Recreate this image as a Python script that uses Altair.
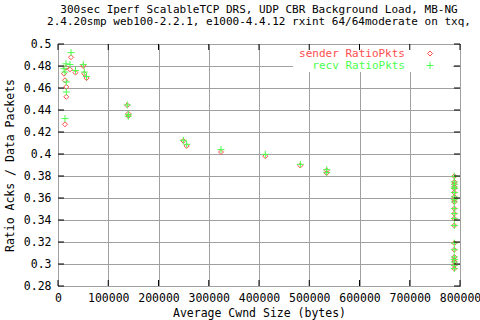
import altair as alt
import pandas as pd

title_lines = [
    "300sec Iperf ScalableTCP DRS, UDP CBR Background Load, MB-NG",
    "2.4.20smp web100-2.2.1, e1000-4.4.12 rxint 64/64moderate on txq,",
]
x_title = "Average Cwnd Size (bytes)"
y_title = "Ratio Acks / Data Packets"
series_names = ["sender RatioPkts", "recv RatioPkts"]
series_colors = ["#ff4d4d", "#4dff4d"]

cwnd = [25900, 15900, 23900, 11900, 13900, 16500, 16500, 13900, 34800, 50300, 52300, 56700,
        137900, 139900, 139900, 249400, 256100, 324400, 412500, 482200, 534700, 534700,
        788700, 788700, 788700, 788700, 788700, 788700, 788700, 788700, 788700, 788700,
        788700, 788700, 788700, 788700, 788700, 788700, 788700, 788700, 788700, 788700]
sender_ratio = [0.4880, 0.4785, 0.4770, 0.4730, 0.4670, 0.4610, 0.4520, 0.4270, 0.4740, 0.4800, 0.4730, 0.4690,
                0.4443, 0.4367, 0.4345, 0.4120, 0.4073, 0.4018, 0.3980, 0.3895, 0.3850, 0.3827,
                0.3797, 0.3746, 0.3725, 0.3700, 0.3686, 0.3650, 0.3610, 0.3585, 0.3564, 0.3504,
                0.3458, 0.3413, 0.3350, 0.3190, 0.3130, 0.3064, 0.3040, 0.3018, 0.2988, 0.2958]
recv_ratio = [0.4922, 0.4820, 0.4813, 0.4776, 0.4745, 0.4655, 0.4564, 0.4322, 0.4760, 0.4813, 0.4745, 0.4705,
              0.4446, 0.4343, 0.4360, 0.4125, 0.4088, 0.4040, 0.3997, 0.3906, 0.3858, 0.3830,
              0.3797, 0.3746, 0.3725, 0.3700, 0.3686, 0.3650, 0.3610, 0.3585, 0.3564, 0.3504,
              0.3458, 0.3413, 0.3350, 0.3190, 0.3130, 0.3064, 0.3040, 0.3018, 0.2988, 0.2958]

x_ticks = [0, 100000, 200000, 300000, 400000, 500000, 600000, 700000, 800000]
y_ticks = [0.28, 0.30, 0.32, 0.34, 0.36, 0.38, 0.40, 0.42, 0.44, 0.46, 0.48, 0.50]

FONT = "DejaVu Sans Mono"
FS = 11.5
W, H = 402, 242
TICK = 6
diamond_path = "M0,-1L1,0L0,1L-1,0Z"
plus_path = "M-1,0H1M0,-1V1"

rows = []
for name, vals in zip(series_names, [sender_ratio, recv_ratio]):
    for xv, yv in zip(cwnd, vals):
        rows.append({"cwnd": xv, "ratio": yv, "series": name})
df = pd.DataFrame(rows)

x_scale = alt.Scale(domain=[0, 800000], nice=False, zero=False)
y_scale = alt.Scale(domain=[0.28, 0.5], nice=False, zero=False)
x_axis = alt.Axis(values=x_ticks, format="d", title=x_title, grid=True,
                  gridColor="#a0a0a0", gridWidth=1, ticks=False, tickSize=0,
                  domain=False, labelFlush=False, labelOverlap=False, labelBound=False,
                  labelPadding=6, titlePadding=4)
y_axis = alt.Axis(values=y_ticks, format=".2~f", title=y_title, grid=True,
                  gridColor="#a0a0a0", gridWidth=1, ticks=False, tickSize=0,
                  domain=False, labelFlush=False, labelOverlap=False, labelBound=False,
                  labelPadding=7, titlePadding=8)
x_enc = alt.X("cwnd:Q", scale=x_scale, axis=x_axis)
y_enc = alt.Y("ratio:Q", scale=y_scale, axis=y_axis)

points = alt.Chart(df).mark_point(filled=False, strokeWidth=1, opacity=1).encode(
    x=x_enc,
    y=y_enc,
    color=alt.Color("series:N", scale=alt.Scale(domain=series_names, range=series_colors), legend=None),
    shape=alt.Shape("series:N", scale=alt.Scale(domain=series_names, range=[diamond_path, plus_path]), legend=None),
    size=alt.Size("series:N", scale=alt.Scale(domain=series_names, range=[25, 49]), legend=None),
)

key_box = alt.Chart(pd.DataFrame({"k": [0]})).mark_rect(color="white").encode(
    x=alt.value(235), x2=alt.value(395), y=alt.value(1), y2=alt.value(28))

yt = pd.DataFrame({"ratio": y_ticks})
xt = pd.DataFrame({"cwnd": x_ticks})
tick_left = alt.Chart(yt).mark_rule(color="black").encode(y=y_enc, x=alt.value(0), x2=alt.value(TICK))
tick_right = alt.Chart(yt).mark_rule(color="black").encode(y=y_enc, x=alt.value(W - TICK), x2=alt.value(W))
tick_bottom = alt.Chart(xt).mark_rule(color="black").encode(x=x_enc, y=alt.value(H - TICK), y2=alt.value(H))
tick_top = alt.Chart(xt).mark_rule(color="black").encode(x=x_enc, y=alt.value(0), y2=alt.value(TICK))

key_layers = []
for i, name in enumerate(series_names):
    ldf = pd.DataFrame({"label": [name]})
    key_layers.append(
        alt.Chart(ldf).mark_text(align="right", baseline="middle", font=FONT, fontSize=11,
                                 color=series_colors[i]).encode(
            x=alt.value(347), y=alt.value(9.5 + 12 * i), text="label:N"))
    key_layers.append(
        alt.Chart(ldf).mark_point(filled=False, strokeWidth=1, opacity=1,
                                  shape=[diamond_path, plus_path][i], size=[25, 49][i],
                                  color=series_colors[i]).encode(
            x=alt.value(372), y=alt.value(9.5 + 12 * i)))

chart = alt.layer(points, key_box, tick_left, tick_right, tick_bottom, tick_top, *key_layers).properties(
    width=W, height=H,
    autosize=alt.AutoSizeParams(type="none"),
    padding={"left": 58, "top": 44, "right": 20, "bottom": 34},
    title=alt.TitleParams(text=title_lines, font=FONT, fontSize=11, fontWeight="normal",
                          anchor="middle", frame="group", offset=11, lineHeight=12, color="black"),
    background="white",
).configure_view(stroke="black", strokeWidth=1).configure_axis(
    labelFont=FONT, labelFontSize=FS, labelColor="black",
    titleFont=FONT, titleFontSize=FS, titleFontWeight="normal", titleColor="black",
)

chart.save("out.html", embed_options={"renderer": "svg", "actions": False})
